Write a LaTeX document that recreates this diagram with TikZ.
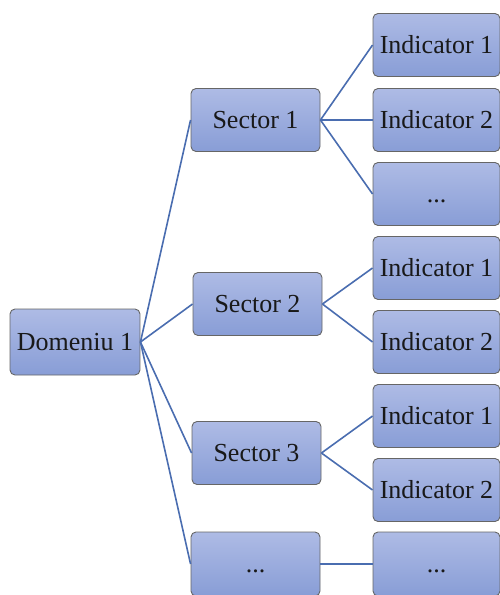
\documentclass[tikz,border=0pt]{standalone}
\usepackage{fontspec}
\setmainfont{Liberation Serif}
\begin{document}
\begin{tikzpicture}[x=1pt,y=-1pt,
  box/.style={draw=black!60, line width=0.9pt, rounded corners=5pt,
    top color=boxtop, bottom color=boxbot, minimum height=63pt,
    inner sep=0pt, font=\fontsize{26}{28}\selectfont, text=black!90},
  wbox/.style={box, minimum width=129pt},
  ibox/.style={box, minimum width=127pt},
  link/.style={draw=linkc, line width=1.6pt}]
\definecolor{boxtop}{HTML}{AEBBE5}
\definecolor{boxbot}{HTML}{889DD6}
\definecolor{linkc}{HTML}{4A6DB0}
\useasboundingbox (0,0) rectangle (499,595);
\node[box, minimum width=130pt, minimum height=66pt] (d) at (75,342) {Domeniu 1};
\node[wbox] (s1) at (255.5,120) {Sector 1};
\node[wbox] (s2) at (257.5,304) {Sector 2};
\node[wbox] (s3) at (256.5,453) {Sector 3};
\node[wbox, minimum height=64pt] (s4) at (255.5,564) {\vphantom{Sector}...};
\node[ibox] (i11) at (436.5,45) {Indicator 1};
\node[ibox] (i12) at (436.5,120) {Indicator 2};
\node[ibox] (i13) at (436.5,194) {\vphantom{Sector}...};
\node[ibox] (i21) at (436.5,268) {Indicator 1};
\node[ibox] (i22) at (436.5,342) {Indicator 2};
\node[ibox] (i31) at (436.5,416) {Indicator 1};
\node[ibox] (i32) at (436.5,490) {Indicator 2};
\node[ibox, minimum height=64pt] (i41) at (436.5,564) {\vphantom{Sector}...};
\foreach \s in {s1,s2,s3,s4} \draw[link] (d.east) -- (\s.west);
\foreach \i in {i11,i12,i13} \draw[link] (s1.east) -- (\i.west);
\foreach \i in {i21,i22} \draw[link] (s2.east) -- (\i.west);
\foreach \i in {i31,i32} \draw[link] (s3.east) -- (\i.west);
\draw[link] (s4.east) -- (i41.west);
\end{tikzpicture}
\end{document}
